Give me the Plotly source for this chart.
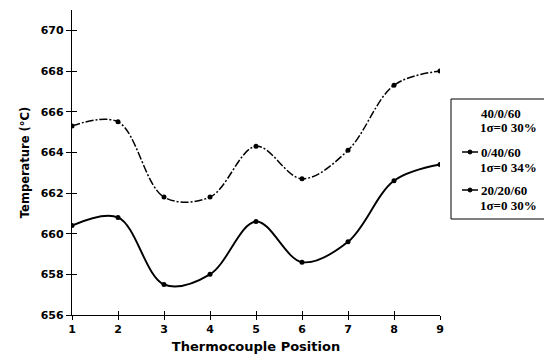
import plotly.graph_objects as go

positions = [1, 2, 3, 4, 5, 6, 7, 8, 9]
temp_upper = [665.3, 665.5, 661.8, 661.8, 664.3, 662.7, 664.1, 667.3, 668.0]
temp_lower = [660.4, 660.8, 657.5, 658.0, 660.6, 658.6, 659.6, 662.6, 663.4]
legend_names = ["40/0/60", "0/40/60", "20/20/60"]
legend_sigma = ["1σ=0 30%", "1σ=0 34%", "1σ=0 30%"]
legend_has_symbol = [False, True, True]
y_ticks = [656, 658, 660, 662, 664, 666, 668, 670]
x_ticks = [1, 2, 3, 4, 5, 6, 7, 8, 9]

W, H = 544, 364
ML, MR, MT, MB = 72, 104, 10, 49
PW, PH = W - ML - MR, H - MT - MB


def px(xpix):
    return (xpix - ML) / PW


def py(ypix):
    return (H - MB - ypix) / PH


fig = go.Figure()
fig.add_trace(go.Scatter(
    x=positions, y=temp_upper, mode="lines+markers", showlegend=False,
    line=dict(color="black", width=1.5, shape="spline", smoothing=1.0, dash="8px,2px,2px,2px"),
    marker=dict(color="black", size=5, symbol="circle"),
))
fig.add_trace(go.Scatter(
    x=positions, y=temp_lower, mode="lines+markers", showlegend=False,
    line=dict(color="black", width=1.9, shape="spline", smoothing=1.0),
    marker=dict(color="black", size=5, symbol="circle"),
))
# invisible helper trace on overlay axes so inside ticks render (crossing-tick look)
fig.add_trace(go.Scatter(
    x=positions, y=temp_lower, xaxis="x2", yaxis="y2", mode="markers",
    marker=dict(opacity=0), showlegend=False, hoverinfo="skip",
))

# Manual legend (box cut by the right edge, as in the reference)
shapes = [dict(type="rect", xref="paper", yref="paper",
               x0=px(451), x1=px(570), y0=py(99), y1=py(219),
               line=dict(color="black", width=1), fillcolor="white", layer="above")]
annotations = []
serif = "Liberation Serif, Times New Roman, serif"
entry_y = [113, 152, 190]
for i, name in enumerate(legend_names):
    y0 = entry_y[i]
    annotations.append(dict(xref="paper", yref="paper", x=px(479), y=py(y0),
                            xanchor="left", yanchor="middle", showarrow=False,
                            text="<b>" + name + "</b>",
                            font=dict(family=serif, size=13, color="black")))
    annotations.append(dict(xref="paper", yref="paper", x=px(478), y=py(y0 + 15),
                            xanchor="left", yanchor="middle", showarrow=False,
                            text="<b>" + legend_sigma[i] + "</b>",
                            font=dict(family=serif, size=13, color="black")))
    if legend_has_symbol[i]:
        shapes.append(dict(type="line", xref="paper", yref="paper",
                           x0=px(462), x1=px(478), y0=py(y0), y1=py(y0),
                           line=dict(color="black", width=1.5)))
        shapes.append(dict(type="circle", xref="paper", yref="paper",
                           x0=px(468), x1=px(472), y0=py(y0 + 2), y1=py(y0 - 2),
                           line=dict(color="black", width=1), fillcolor="black"))

sans = "DejaVu Sans, Arial, sans-serif"
tickfont = dict(family=sans, size=11, color="black", weight="bold")
fig.update_layout(
    width=W, height=H,
    margin=dict(l=ML, r=MR, t=MT, b=MB, autoexpand=False),
    paper_bgcolor="white", plot_bgcolor="white",
    showlegend=False,
    shapes=shapes,
    annotations=annotations,
    xaxis=dict(
        range=[1, 9], tickvals=x_ticks, ticktext=[str(v) for v in x_ticks],
        showgrid=False, zeroline=False, showline=True, linecolor="black", linewidth=1.2,
        ticks="outside", ticklen=4, tickcolor="black", tickfont=tickfont,
        title=dict(text="<b>Thermocouple Position</b>", font=dict(family=sans, size=13, color="black"), standoff=6),
    ),
    yaxis=dict(
        range=[656, 671], tickvals=y_ticks, ticktext=[str(v) for v in y_ticks],
        showgrid=False, zeroline=False, showline=True, linecolor="black", linewidth=1.2,
        ticks="outside", ticklen=5, tickcolor="black", tickfont=tickfont,
        title=dict(text="<b>Temperature (°C)</b>", font=dict(family=sans, size=11.5, color="black"), standoff=8),
    ),
    xaxis2=dict(
        overlaying="x", anchor="y2", range=[1, 9], tickvals=x_ticks, showticklabels=False,
        ticks="inside", ticklen=4, tickcolor="black", showgrid=False, zeroline=False, showline=False,
        side="bottom",
    ),
    yaxis2=dict(
        overlaying="y", anchor="x2", range=[656, 671], tickvals=y_ticks, showticklabels=False,
        ticks="inside", ticklen=5, tickcolor="black", showgrid=False, zeroline=False, showline=False,
        side="left",
    ),
)

fig.write_html("out.html")
